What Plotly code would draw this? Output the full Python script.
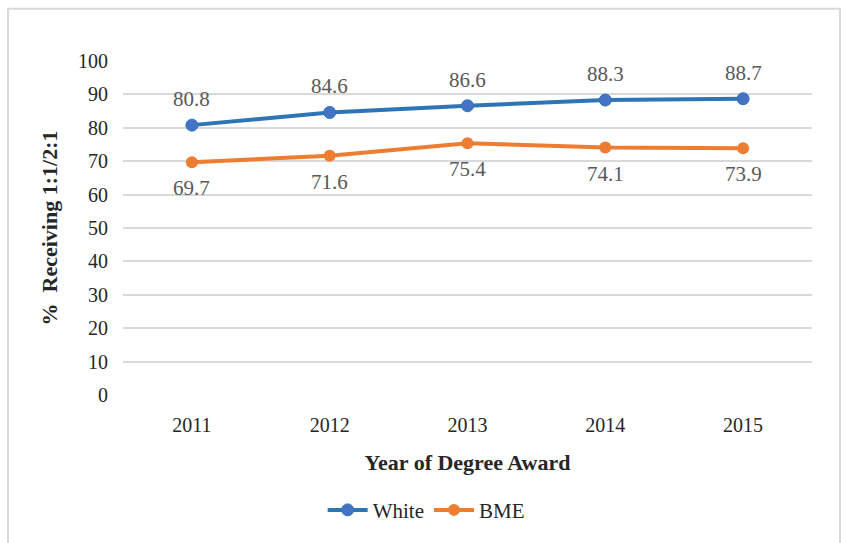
import plotly.graph_objects as go

years = ["2011", "2012", "2013", "2014", "2015"]
white = [80.8, 84.6, 86.6, 88.3, 88.7]
bme = [69.7, 71.6, 75.4, 74.1, 73.9]
y_ticks = [0, 10, 20, 30, 40, 50, 60, 70, 80, 90, 100]

FONT = "Liberation Serif"
fig = go.Figure()
fig.add_trace(go.Scatter(x=years, y=white, name="White", mode="lines+markers",
                         line=dict(color="#2E75B6", width=4),
                         marker=dict(color="#4472C4", size=12, line=dict(color="#2E75B6", width=1))))
fig.add_trace(go.Scatter(x=years, y=bme, name="BME", mode="lines+markers",
                         line=dict(color="#ED7D31", width=4),
                         marker=dict(color="#ED7D31", size=12)))

anns = []
for i, v in enumerate(white):
    anns.append(dict(x=i, y=v, xref="x", yref="y", text=f"{v}", showarrow=False, yshift=26,
                     font=dict(family=FONT, size=21, color="#595959")))
for i, v in enumerate(bme):
    anns.append(dict(x=i, y=v, xref="x", yref="y", text=f"{v}", showarrow=False, yshift=-26,
                     font=dict(family=FONT, size=21, color="#595959")))

fig.update_layout(
    width=846, height=543,
    margin=dict(l=123, r=34, t=61, b=144),
    paper_bgcolor="white", plot_bgcolor="white",
    font=dict(family=FONT, size=20, color="#262626"),
    annotations=anns,
    showlegend=True,
    legend=dict(orientation="h", x=0.44, xanchor="center", y=-0.345, yanchor="middle",
                font=dict(family=FONT, size=21, color="#262626"), itemwidth=40),
    xaxis=dict(type="category", range=[-0.5, 4.5], showgrid=False, zeroline=False,
               showline=False, ticks="", tickfont=dict(size=20), ticklabelstandoff=16,
               title=dict(text="<b>Year of Degree Award</b>", font=dict(size=22), standoff=19)),
    yaxis=dict(range=[0, 100], tickvals=y_ticks, showgrid=True, gridcolor="#D9D9D9",
               gridwidth=1.5, zeroline=False, showline=False, ticks="",
               ticklabelstandoff=14, tickfont=dict(size=20),
               title=dict(text="<b>%  Receiving 1:1/2:1</b>", font=dict(size=22), standoff=14)),
    shapes=[dict(type="rect", xref="paper", yref="paper",
                 x0=(8 - 123) / 689, x1=(840 - 123) / 689,
                 y0=(399 - 570) / 338, y1=(399 - 8) / 338,
                 line=dict(color="#D9D9D9", width=2), fillcolor="rgba(0,0,0,0)", layer="below")],
)
fig.write_html("out.html")
